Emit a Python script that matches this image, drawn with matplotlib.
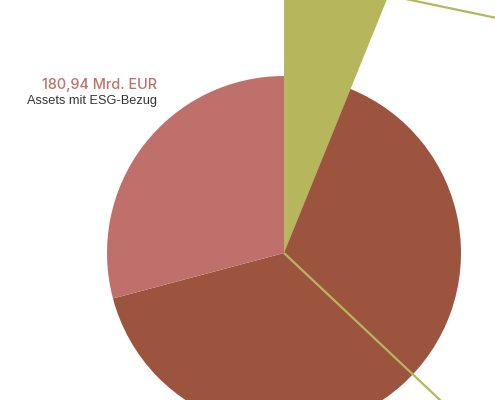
import numpy as np
import matplotlib
matplotlib.use("Agg")
import matplotlib.pyplot as plt

# shares of the pie in Mrd. EUR
labels = ["Detail", "Sonstige Assets", "Assets mit ESG-Bezug"]
values = [38.1, 401.9, 180.94]
colors = ["#b6b65c", "#9c543f", "#c0706b"]

headline = "180,94 Mrd. EUR"
subline = "Assets mit ESG-Bezug"

# layout (pixel-like data units, y pointing up)
W, H = 495, 400
center = (284, 147)
radius = 177
detail_radius = 278
connector_angles = [-11.8, -43.3]  # direction of the two connectors, deg

fig = plt.figure(figsize=(W / 100, H / 100), dpi=100)
ax = fig.add_axes([0, 0, 1, 1])

# big wedge for the highlighted slice, behind the main pie
ax.pie(values, startangle=90, counterclock=False, radius=detail_radius,
       center=center, colors=[colors[0], "none", "none"])
ax.pie(values, startangle=90, counterclock=False, radius=radius,
       center=center, colors=colors)

# connectors from the corners of the highlighted wedge
end_angle = np.radians(90 - 360 * values[0] / sum(values))
corner_outer = (center[0] + detail_radius * np.cos(end_angle),
                center[1] + detail_radius * np.sin(end_angle))
for start, ang in zip([corner_outer, center], connector_angles):
    a = np.radians(ang)
    L = 400
    ax.plot([start[0], start[0] + L * np.cos(a)],
            [start[1], start[1] + L * np.sin(a)],
            color=colors[0], lw=1.6, solid_capstyle="butt")

ax.text(157, 315, headline, ha="right", va="center", color=colors[2],
        fontsize=10.4, fontweight="medium", family=["Inter", "DejaVu Sans"])
ax.text(157, 299, subline, ha="right", va="center", color="#333333",
        fontsize=9.2, family=["Liberation Sans", "DejaVu Sans"])

ax.set_xlim(0, W)
ax.set_ylim(0, H)
ax.set_aspect("equal")
ax.axis("off")

fig.savefig("out.png", dpi=100)
plt.close(fig)
